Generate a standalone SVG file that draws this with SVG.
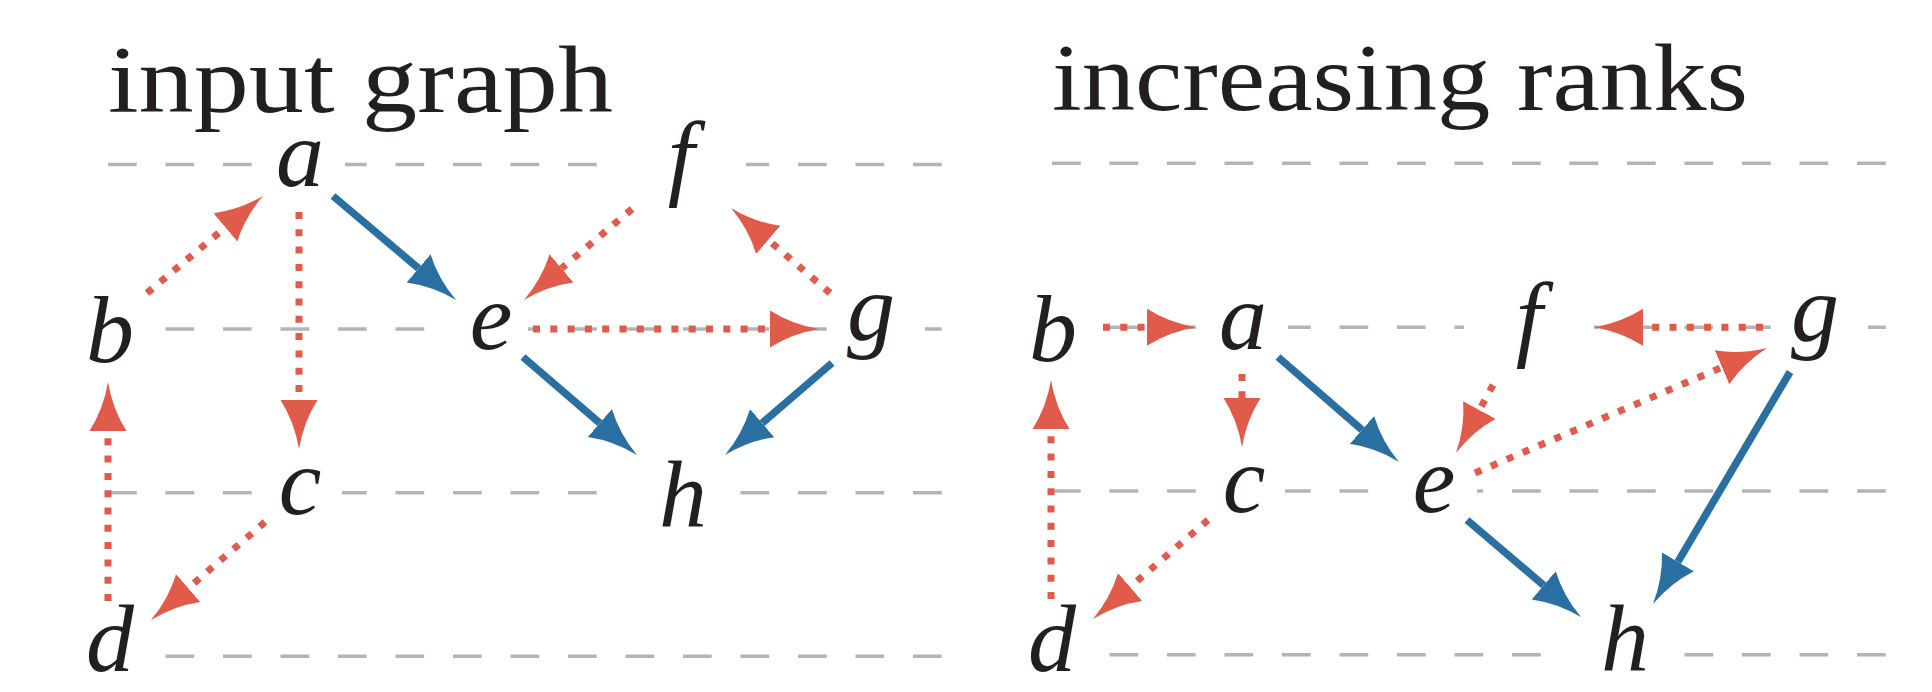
<svg xmlns="http://www.w3.org/2000/svg" width="1932" height="692" viewBox="0 0 1932 692">
<style>
.rank{stroke:#b4b4b8;stroke-width:3.5;stroke-dasharray:28.7 28.8;fill:none}
.bg{fill:#ffffff}
.lbl{font-family:"Liberation Serif",serif;font-style:italic;font-size:96px;fill:#231f20;text-anchor:middle}
.title{font-family:"Liberation Serif",serif;font-size:96px;fill:#231f20}
.red{stroke:#e15b4a;stroke-width:7;stroke-dasharray:7 10.3;fill:none;marker-end:url(#ar)}
.blue{stroke:#2a6fa2;stroke-width:7.5;fill:none;marker-end:url(#ab)}
</style>
<defs>
<marker id="ar" markerUnits="userSpaceOnUse" markerWidth="52" markerHeight="40" viewBox="0 -20 52 40" refX="0" refY="0" orient="auto">
<path d="M0,-18.5 Q22,-4.5 49,0 Q22,4.5 0,18.5 Z" fill="#e15b4a"/>
</marker>
<marker id="ab" markerUnits="userSpaceOnUse" markerWidth="52" markerHeight="40" viewBox="0 -20 52 40" refX="0" refY="0" orient="auto">
<path d="M0,-18.5 Q22,-4.5 49,0 Q22,4.5 0,18.5 Z" fill="#2a6fa2"/>
</marker>
</defs>
<rect width="1932" height="692" fill="#ffffff"/>
<g id="titles">
<text class="title" x="108" y="112" textLength="505" lengthAdjust="spacingAndGlyphs">input graph</text>
<text class="title" x="1052" y="110" textLength="696" lengthAdjust="spacingAndGlyphs">increasing ranks</text>
</g>
<g id="ranks">
<line class="rank" x1="108" y1="164.5" x2="942" y2="164.5"/>
<line class="rank" x1="108" y1="329" x2="942" y2="329"/>
<line class="rank" x1="108" y1="492.7" x2="942" y2="492.7"/>
<line class="rank" x1="108" y1="656.3" x2="942" y2="656.3"/>
<line class="rank" x1="1052" y1="163.3" x2="1886" y2="163.3"/>
<line class="rank" x1="1052" y1="327.3" x2="1886" y2="327.3"/>
<line class="rank" x1="1052" y1="491" x2="1886" y2="491"/>
<line class="rank" x1="1052" y1="654.7" x2="1886" y2="654.7"/>
</g>
<g id="L-a"><rect class="bg" x="253" y="158" width="92" height="13"/><text class="lbl" x="300" y="186">a</text></g>
<g id="L-b"><rect class="bg" x="70" y="322" width="92" height="13"/><text class="lbl" x="110" y="362">b</text></g>
<g id="L-c"><rect class="bg" x="253" y="486" width="89" height="13"/><text class="lbl" x="300" y="514">c</text></g>
<g id="L-d"><rect class="bg" x="70" y="650" width="92" height="13"/><text class="lbl" x="110" y="671">d</text></g>
<g id="L-e"><rect class="bg" x="426" y="322" width="102" height="13"/><text class="lbl" x="491" y="349">e</text></g>
<g id="L-f"><rect class="bg" x="612" y="158" width="134" height="13"/><text class="lbl" x="681" y="188">f</text></g>
<g id="L-g"><rect class="bg" x="828" y="322" width="97" height="13"/><text class="lbl" x="871" y="340">g</text></g>
<g id="L-h"><rect class="bg" x="600" y="486" width="140" height="13"/><text class="lbl" x="683" y="527">h</text></g>
<g id="R-a"><rect class="bg" x="1198" y="321" width="90" height="13"/><text class="lbl" x="1243" y="349">a</text></g>
<g id="R-b"><rect class="bg" x="1010" y="321" width="92" height="13"/><text class="lbl" x="1053" y="361">b</text></g>
<g id="R-c"><rect class="bg" x="1197" y="485" width="88" height="13"/><text class="lbl" x="1244" y="512">c</text></g>
<g id="R-d"><rect class="bg" x="1010" y="648" width="92" height="13"/><text class="lbl" x="1052" y="671">d</text></g>
<g id="R-e"><rect class="bg" x="1370" y="485" width="107" height="13"/><text class="lbl" x="1434" y="512">e</text></g>
<g id="R-f"><rect class="bg" x="1464" y="321" width="130" height="13"/><text class="lbl" x="1529" y="349">f</text></g>
<g id="R-g"><rect class="bg" x="1771" y="321" width="97" height="13"/><text class="lbl" x="1815" y="341">g</text></g>
<g id="R-h"><rect class="bg" x="1542" y="648" width="142" height="13"/><text class="lbl" x="1625" y="671">h</text></g>
<g id="connectors">
<line class="red" x1="147" y1="293" x2="225.4" y2="227.4"/>
<line class="red" x1="299" y1="212" x2="299" y2="400"/>
<line class="blue" x1="333" y1="196" x2="418.6" y2="268.4"/>
<line class="red" x1="632" y1="209" x2="561.5" y2="268.4"/>
<line class="red" x1="533" y1="329" x2="770" y2="329"/>
<line class="red" x1="830" y1="293" x2="768.2" y2="239.9"/>
<line class="blue" x1="523" y1="357" x2="599.8" y2="423.1"/>
<line class="blue" x1="832" y1="363" x2="762.1" y2="423.1"/>
<line class="red" x1="265" y1="522" x2="188.2" y2="588.1"/>
<line class="red" x1="108" y1="601" x2="108" y2="431"/>
<line class="red" x1="1103" y1="327.3" x2="1147" y2="327.3"/>
<line class="red" x1="1242" y1="374" x2="1242" y2="398"/>
<line class="blue" x1="1278" y1="357" x2="1362" y2="429.9"/>
<line class="red" x1="1493" y1="385" x2="1479.4" y2="410"/>
<line class="red" x1="1763" y1="327.3" x2="1643" y2="327.3"/>
<line class="red" x1="1475" y1="473" x2="1722" y2="367.3"/>
<line class="blue" x1="1790" y1="372" x2="1677.9" y2="561.8"/>
<line class="blue" x1="1467" y1="520" x2="1543.7" y2="585.3"/>
<line class="red" x1="1208" y1="520" x2="1130.1" y2="587"/>
<line class="red" x1="1051" y1="599" x2="1051" y2="429"/>
</g>
</svg>
